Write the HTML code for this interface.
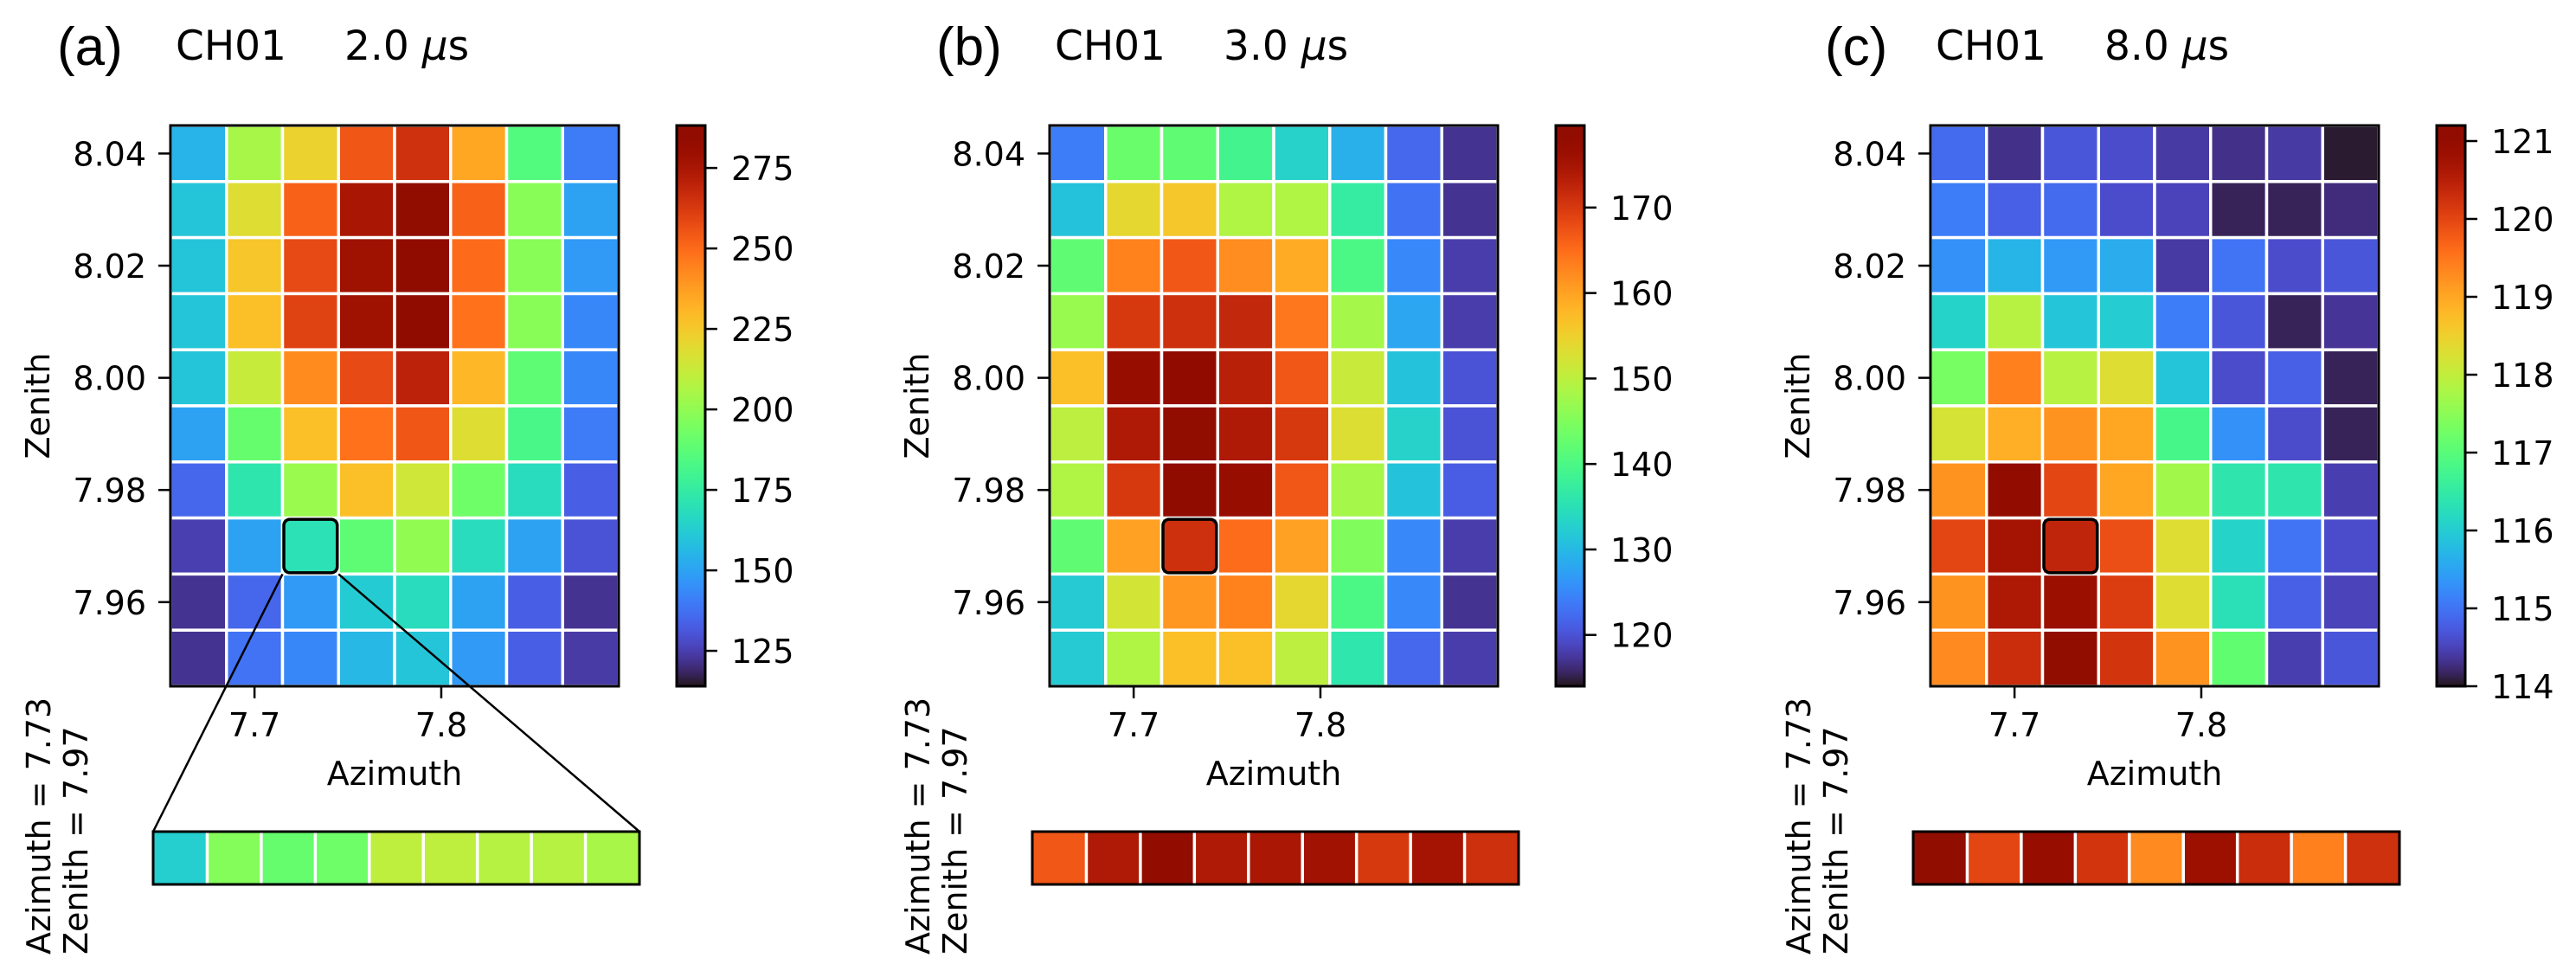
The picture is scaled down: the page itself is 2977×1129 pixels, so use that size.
<!DOCTYPE html>
<html><head><meta charset="utf-8"><style>
html,body{margin:0;padding:0;background:#fff;}
svg{display:block;font-family:"DejaVu Sans","Liberation Sans",sans-serif;}
</style></head><body>
<svg id="fig" width="2977" height="1129" viewBox="0 0 2977 1129" xmlns="http://www.w3.org/2000/svg"></svg>
<script>
// ---- data ----
const yTicks = [8.04, 8.02, 8.00, 7.98, 7.96];
const xTicks = [7.7, 7.8];
const rowCenters = [8.04, 8.03, 8.02, 8.01, 8.00, 7.99, 7.98, 7.97, 7.96, 7.95];
const colCenters = [7.67, 7.70, 7.73, 7.76, 7.79, 7.82, 7.85, 7.88];
const selAz = 7.73, selZen = 7.97;

const valuesA = [
 [155,205,222,255,265,235,185,140],
 [160,218,252,275,288,252,198,150],
 [160,226,258,278,287,250,198,148],
 [160,228,260,278,287,248,198,143],
 [160,212,242,258,270,230,188,143],
 [150,190,228,248,255,218,182,140],
 [135,172,202,228,214,192,168,133],
 [125,150,170,188,200,168,150,130],
 [122,135,148,162,168,150,133,122],
 [122,138,143,156,160,148,133,124]];
const stripA = [163,197,190,192,210,210,208,208,205];
const cbTicksA = [125,150,175,200,225,250,275];

const valuesB = [
 [124,143,142,139,133,129,122,117],
 [131,154,156,149,149,137,123,117],
 [142,163,167,162,159,140,125,118],
 [147,170,171,172,164,148,128,118],
 [157,177,178.5,173,167,151,131,120],
 [150,174,179.5,174,170,153,133,120],
 [149,170,179,177,167,148,131,121],
 [142,160,171,165,160,145,125,118],
 [132,152,161,163,154,140,125,117],
 [132,149,157,157,150,136,122,118]];
const stripB = [167,174,178,174,174.5,175.5,170,175,171];
const cbTicksB = [120,130,140,150,160,170];

const valuesC = [
 [114.9,114.3,114.7,114.6,114.4,114.3,114.4,114.05],
 [115.1,114.8,114.9,114.6,114.5,114.15,114.15,114.25],
 [115.3,115.7,115.4,115.6,114.4,115.0,114.6,114.7],
 [116.1,117.9,115.9,116.0,115.1,114.7,114.15,114.35],
 [117.3,119.4,117.9,118.3,115.9,114.6,114.8,114.15],
 [118.2,118.9,119.2,119.0,116.8,115.3,114.6,114.15],
 [119.2,121.0,120.0,119.0,117.7,116.4,116.4,114.45],
 [120.0,120.7,120.4,119.9,118.3,116.1,115.0,114.6],
 [119.2,120.6,120.85,120.1,118.3,116.3,114.8,114.5],
 [119.3,120.3,121.2,120.2,119.2,117.1,114.45,114.7]];
const stripC = [121.2,120.0,120.9,120.2,119.3,120.8,120.3,119.4,120.25];
const cbTicksC = [114,115,116,117,118,119,120,121];

const panels = [
 {id:'a', letter:'(a)', time:'2.0', vals:valuesA, strip:stripA, cbt:cbTicksA, vmin:114, vmax:288.2, hx:197, letterOff:-131, zoom:true},
 {id:'b', letter:'(b)', time:'3.0', vals:valuesB, strip:stripB, cbt:cbTicksB, vmin:114, vmax:179.6, hx:1213, letterOff:-131, zoom:false},
 {id:'c', letter:'(c)', time:'8.0', vals:valuesC, strip:stripC, cbt:cbTicksC, vmin:114, vmax:121.2, hx:2231, letterOff:-122, zoom:false}
];

// ---- helpers ----
const NS = 'http://www.w3.org/2000/svg';
const svg = document.getElementById('fig');
function mk(tag, attrs, parent){
  const e = document.createElementNS(NS, tag);
  for (const k in attrs) e.setAttribute(k, attrs[k]);
  (parent||svg).appendChild(e);
  return e;
}
function turbo(t){
  t = Math.max(0, Math.min(1, t));
  const r = 0.13572138 + t*(4.61539260 + t*(-42.66032258 + t*(132.13108234 + t*(-152.94239396 + t*59.28637943))));
  const g = 0.09140261 + t*(2.19418839 + t*(4.84296658 + t*(-14.18503333 + t*(4.27729857 + t*2.82956604))));
  const b = 0.10667330 + t*(12.64194608 + t*(-60.58204836 + t*(110.36276771 + t*(-89.90310912 + t*27.34824973))));
  const c = v => Math.round(255*Math.max(0, Math.min(1, v)));
  return `rgb(${c(r)},${c(g)},${c(b)})`;
}
const HY0 = 145, HY1 = 793, HW = 518;
const AZ0 = 7.655, AZ1 = 7.895, ZE0 = 8.045, ZE1 = 7.945;
const SY0 = 961, SY1 = 1022;
const FS = 38;

panels.forEach(p => {
  const g = mk('g', {});
  
  
  const xs = v => p.hx + (v - AZ0) / (AZ1 - AZ0) * HW;
  const ys = v => HY0 + (v - ZE0) / (ZE1 - ZE0) * (HY1 - HY0);
  const cw = HW / colCenters.length, ch = (HY1 - HY0) / rowCenters.length;
  const cbx = p.hx + 585, sx0 = p.hx - 20, sx1 = p.hx + 542;

  // titles
  const lt = mk('text', {x:p.hx + p.letterOff, y:75, 'font-size':62, fill:'#000', 'font-family':'"Liberation Sans", sans-serif'}, g);
  lt.textContent = p.letter;
  
  
  const tt = mk('text', {x:p.hx + 6, y:69, 'font-size':47, fill:'#000'}, g);
  tt.innerHTML = 'CH01<tspan x="' + (p.hx + 201) + '">' + p.time + ' <tspan font-style="italic">μ</tspan>s</tspan>';
  
  

  // heatmap cells
  const cells = mk('g', {}, g);
  
  
  p.vals.forEach((row, i) => row.forEach((v, j) => {
    const x = xs(colCenters[j]) - cw/2, y = ys(rowCenters[i]) - ch/2;
    const r = mk('rect', {x:x, y:y, width:cw, height:ch, fill:turbo((v-p.vmin)/(p.vmax-p.vmin)), stroke:'#fff', 'stroke-width':3.5}, cells);
    
    
  }));
  const fr = mk('rect', {x:p.hx, y:HY0, width:HW, height:HY1-HY0, fill:'none', stroke:'#000', 'stroke-width':3}, g);
  
  

  // selected cell
  const sx = xs(selAz) - cw/2, sy = ys(selZen) - ch/2;
  const sel = mk('rect', {x:sx+1.5, y:sy+1.5, width:cw-3, height:ch-3, rx:7, fill:'none', stroke:'#000', 'stroke-width':3.5}, g);
  
  

  // y ticks
  yTicks.forEach(t => {
    const y = ys(t);
    mk('line', {x1:p.hx-14, x2:p.hx, y1:y, y2:y, stroke:'#000', 'stroke-width':2.5}, g);
    const tx = mk('text', {x:p.hx-28, y:y+14, 'font-size':FS, 'text-anchor':'end'}, g);
    tx.textContent = t.toFixed(2);
    
    
  });
  xTicks.forEach(t => {
    const x = xs(t);
    mk('line', {x1:x, x2:x, y1:HY1, y2:HY1+14, stroke:'#000', 'stroke-width':2.5}, g);
    const tx = mk('text', {x:x, y:851, 'font-size':FS, 'text-anchor':'middle'}, g);
    tx.textContent = t.toFixed(1);
    
    
  });
  const xl = mk('text', {x:p.hx+HW/2, y:907, 'font-size':FS, 'text-anchor':'middle'}, g);
  xl.textContent = 'Azimuth';
  
  
  const yl = mk('text', {x:0, y:0, 'font-size':FS, 'text-anchor':'middle', transform:`translate(${p.hx-140},${(HY0+HY1)/2}) rotate(-90)`}, g);
  yl.textContent = 'Zenith';
  
  

  // colorbar
  const cbw = 33, cbh = HY1 - HY0;
  const gid = 'grad' + p.id;
  const defs = mk('defs', {}, g);
  const lg = mk('linearGradient', {id:gid, x1:0, y1:1, x2:0, y2:0}, defs);
  for (let k = 0; k <= 40; k++) mk('stop', {offset:(k/40), 'stop-color':turbo(k/40)}, lg);
  const cb = mk('rect', {x:cbx, y:HY0, width:cbw, height:cbh, fill:`url(#${gid})`, stroke:'#000', 'stroke-width':3}, g);
  
  
  const cs = v => HY1 - (v - p.vmin) / (p.vmax - p.vmin) * cbh;
  p.cbt.forEach(t => {
    const y = cs(t);
    mk('line', {x1:cbx+cbw, x2:cbx+cbw+14, y1:y, y2:y, stroke:'#000', 'stroke-width':2.5}, g);
    const tx = mk('text', {x:cbx+cbw+30, y:y+14, 'font-size':FS}, g);
    tx.textContent = t;
    
    
  });

  // strip
  const sw = (sx1 - sx0) / p.strip.length;
  const sg = mk('g', {}, g);
  
  
  p.strip.forEach((v, k) => {
    const r = mk('rect', {x:sx0 + k*sw, y:SY0, width:sw, height:SY1-SY0, fill:turbo((v-p.vmin)/(p.vmax-p.vmin))}, sg);
    
    
  });
  for (let k = 1; k < p.strip.length; k++) {
    mk('line', {x1:sx0+k*sw, x2:sx0+k*sw, y1:SY0, y2:SY1, stroke:'#fff', 'stroke-width':3.5}, sg);
  }
  mk('rect', {x:sx0, y:SY0, width:sx1-sx0, height:SY1-SY0, fill:'none', stroke:'#000', 'stroke-width':3}, sg);

  const l1 = mk('text', {x:0, y:0, 'font-size':FS, transform:`translate(${p.hx-139},1103) rotate(-90)`}, g);
  l1.textContent = 'Azimuth = ' + selAz.toFixed(2);
  
  
  const l2 = mk('text', {x:0, y:0, 'font-size':FS, transform:`translate(${p.hx-96},1103) rotate(-90)`}, g);
  l2.textContent = 'Zenith = ' + selZen.toFixed(2);
  
  

  if (p.zoom) {
    const c1 = mk('line', {x1:sx, y1:sy+ch, x2:sx0, y2:SY0, stroke:'#000', 'stroke-width':2.5}, g);
    
    
    const c2 = mk('line', {x1:sx+cw, y1:sy+ch, x2:sx1, y2:SY0, stroke:'#000', 'stroke-width':2.5}, g);
    
    
  }
});
</script>
</body></html>
